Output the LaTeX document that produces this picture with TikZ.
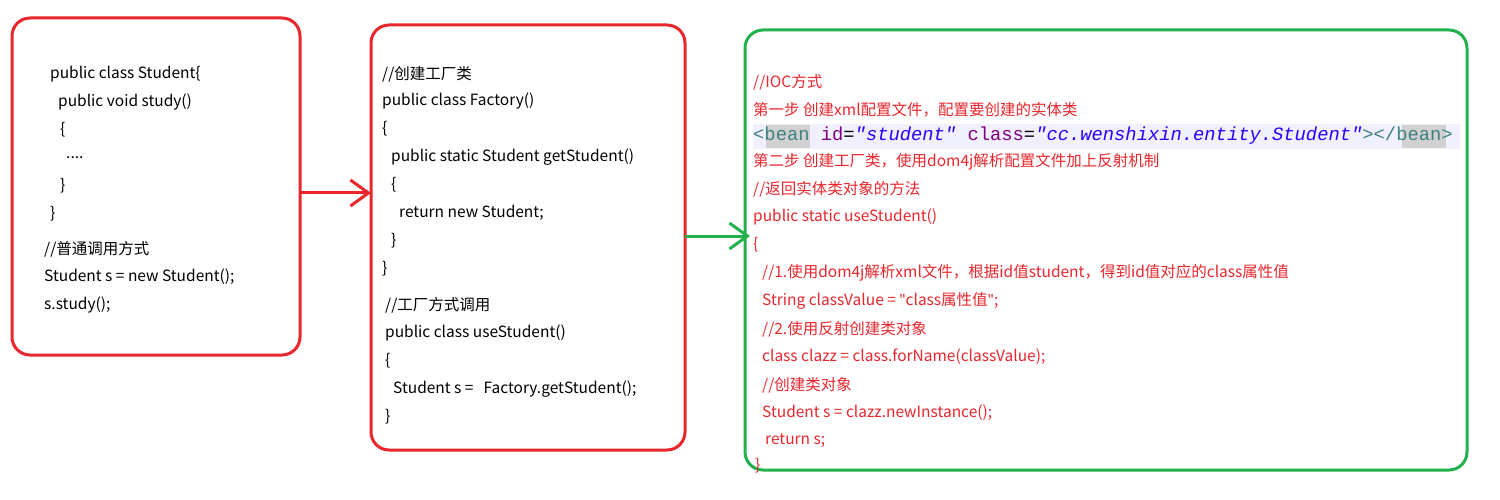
\documentclass[tikz,border=0pt]{standalone}
\usepackage{fontspec}
\setmainfont{Noto Sans CJK SC}
\newfontfamily\monof{Liberation Mono}
\newfontfamily\latf{Noto Sans}
\newcommand{\qq}{{\latf"}}
\usetikzlibrary{arrows.meta}
\definecolor{rd}{HTML}{E8262C}
\definecolor{gn}{HTML}{22B14C}
\definecolor{tagc}{HTML}{3F7F7F}
\definecolor{attc}{HTML}{7F007F}
\definecolor{valc}{HTML}{2A00FF}
\tikzset{
 box/.style={line width=3pt, rounded corners=18pt},
 tx/.style={anchor=west, inner sep=0pt, font=\fontsize{15.5}{17}\selectfont},
 rt/.style={tx, text=rd},
}
\begin{document}
\begin{tikzpicture}[x=1pt,y=-1pt]
\useasboundingbox (0,0) rectangle (1500,500);
\draw[box,rd] (12,18) rectangle (300,355);
\draw[box,rd] (371,25) rectangle (685,450);
\draw[box,gn] (745,30) rectangle (1467,470);
\coordinate (a1s) at (300,193); \coordinate (a1e) at (371,193);
\coordinate (a2s) at (685,236); \coordinate (a2e) at (750,236);
\draw[rd,line width=3pt,-{Straight Barb[length=18pt,width=26pt]}] (a1s) -- (a1e);
\draw[gn,line width=3pt,-{Straight Barb[length=18pt,width=26pt]}] (a2s) -- (a2e);
% box 1
\node[tx] (b1a) at (50,74) {public class Student\{};
\node[tx] (b1b) at (58,102) {public void study()};
\node[tx] (b1c) at (60,130) {\{};
\node[tx] (b1d) at (66,158) {....};
\node[tx] (b1e) at (60,186) {\}};
\node[tx] (b1f) at (50,214) {\}};
\node[tx] (b1g) at (44,249) {//普通调用方式};
\node[tx] (b1h) at (44,277) {Student s = new Student();};
\node[tx] (b1i) at (44,305) {s.study();};
% box 2
\node[tx] (b2a) at (382,74) {//创建工厂类};
\node[tx] (b2b) at (382,101) {public class Factory()};
\node[tx] (b2c) at (382,129) {\{};
\node[tx] (b2d) at (391,157) {public static Student getStudent()};
\node[tx] (b2e) at (391,185) {\{};
\node[tx] (b2f) at (399,213) {return new Student;};
\node[tx] (b2g) at (391,241) {\}};
\node[tx] (b2h) at (382,269) {\}};
\node[tx] (b2i) at (385,305) {//工厂方式调用};
\node[tx] (b2j) at (385,333) {public class useStudent()};
\node[tx] (b2k) at (385,361) {\{};
\node[tx] (b2l) at (393,389) {Student s =\hspace{10pt}Factory.getStudent();};
\node[tx] (b2m) at (385,417) {\}};
% box 3
\fill[blue!6] (753,124) rectangle (1460,149);
\fill[black!18] (766,125) rectangle (810,148);
\fill[black!18] (1402,125) rectangle (1446,148);
\node[rt] (c1) at (753,82) {//IOC方式};
\node[rt] (c2) at (753,110) {第一步 创建xml配置文件，配置要创建的实体类};
\node[tx, font=\monof\fontsize{18.8}{20}\selectfont] (c3) at (753,136) {\textcolor{tagc}{<bean} \textcolor{attc}{id}=\textcolor{valc}{\itshape"student"} \textcolor{attc}{class}=\textcolor{valc}{\itshape"cc.wenshixin.entity.Student"}\textcolor{tagc}{></bean>}};
\node[rt] (c4) at (753,162) {第二步 创建工厂类，使用dom4j解析配置文件加上反射机制};
\node[rt] (c5) at (753,189) {//返回实体类对象的方法};
\node[rt] (c6) at (753,217) {public static useStudent()};
\node[rt] (c7) at (753,245) {\{};
\node[rt] (c8) at (762,273) {//1.使用dom4j解析xml文件，根据id值student，得到id值对应的class属性值};
\node[rt] (c9) at (762,301) {String classValue = \qq class属性值\qq;};
\node[rt] (c10) at (762,329) {//2.使用反射创建类对象};
\node[rt] (c11) at (762,357) {class clazz = class.forName(classValue);};
\node[rt] (c12) at (762,385) {//创建类对象};
\node[rt] (c13) at (762,413) {Student s = clazz.newInstance();};
\node[rt] (c14) at (765,441) {return s;};
\node[rt] (c15) at (755,466) {\}};
\end{tikzpicture}
\end{document}
